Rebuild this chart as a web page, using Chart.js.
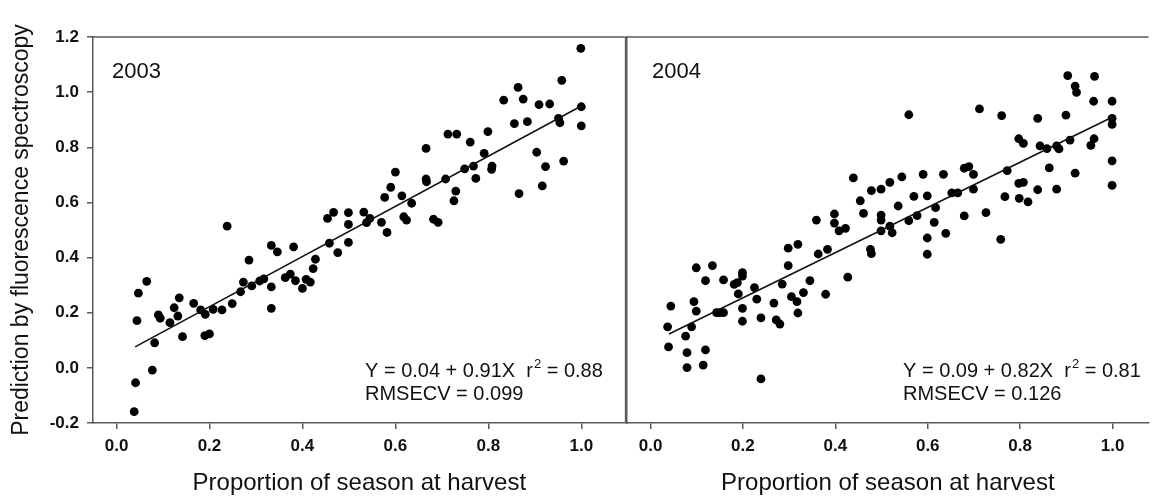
<!DOCTYPE html>
<html>
<head>
<meta charset="utf-8">
<title>Prediction by fluorescence spectroscopy</title>
<script src="https://cdn.jsdelivr.net/npm/chart.js@4.4.1/dist/chart.umd.min.js"></script>
<style>
  html, body { margin: 0; padding: 0; background: #fff; }
  #wrap { position: relative; width: 1153px; height: 498px; overflow: hidden; }
  #left { position: absolute; left: 0; top: 0; }
  #right { position: absolute; left: 600px; top: 0; }
</style>
</head>
<body>
<div id="wrap">
  <canvas id="left" width="630" height="498"></canvas>
  <canvas id="right" width="553" height="498"></canvas>
</div>
<script>
// data
const x2003 = [0.038, 0.041, 0.044, 0.047, 0.065, 0.077, 0.082, 0.090, 0.094, 0.115, 0.124, 0.132, 0.135, 0.142,
  0.166, 0.181, 0.191, 0.190, 0.200, 0.208, 0.227, 0.238, 0.249, 0.267, 0.273, 0.285, 0.291, 0.308, 0.317,
  0.333, 0.333, 0.333, 0.346, 0.363, 0.374, 0.381, 0.385, 0.400, 0.408, 0.417, 0.423, 0.428, 0.454, 0.467,
  0.458, 0.476, 0.499, 0.499, 0.499, 0.532, 0.538, 0.545, 0.570, 0.582, 0.577, 0.590, 0.600, 0.614, 0.618,
  0.624, 0.635, 0.666, 0.666, 0.667, 0.682, 0.692, 0.708, 0.713, 0.732, 0.726, 0.730, 0.749, 0.761, 0.768,
  0.773, 0.791, 0.799, 0.808, 0.807, 0.833, 0.856, 0.864, 0.866, 0.875, 0.884, 0.904, 0.909, 0.916, 0.923,
  0.932, 0.951, 0.954, 0.958, 0.962, 0.999, 1.000, 1.000];
const y2003 = [-0.159, -0.054, 0.171, 0.271, 0.314, -0.008, 0.091, 0.192, 0.180, 0.164, 0.218, 0.188, 0.254, 0.113,
  0.234, 0.210, 0.194, 0.117, 0.123, 0.212, 0.210, 0.514, 0.233, 0.276, 0.311, 0.391, 0.297, 0.315, 0.323,
  0.444, 0.294, 0.216, 0.421, 0.327, 0.340, 0.439, 0.316, 0.288, 0.321, 0.311, 0.360, 0.394, 0.542, 0.564,
  0.452, 0.418, 0.563, 0.520, 0.455, 0.565, 0.527, 0.542, 0.528, 0.491, 0.618, 0.655, 0.710, 0.624, 0.548,
  0.536, 0.597, 0.796, 0.685, 0.675, 0.539, 0.528, 0.685, 0.848, 0.848, 0.606, 0.641, 0.722, 0.819, 0.732,
  0.687, 0.778, 0.857, 0.732, 0.720, 0.971, 0.886, 1.017, 0.632, 0.975, 0.893, 0.782, 0.955, 0.660, 0.730,
  0.957, 0.905, 0.889, 1.043, 0.750, 1.159, 0.947, 0.878];

const x2004 = [0.037, 0.039, 0.044, 0.076, 0.079, 0.079, 0.089, 0.094, 0.099, 0.099, 0.114, 0.119, 0.119, 0.134,
  0.143, 0.158, 0.150, 0.158, 0.181, 0.188, 0.199, 0.199, 0.190, 0.199, 0.199, 0.225, 0.230, 0.239, 0.239,
  0.267, 0.272, 0.280, 0.285, 0.298, 0.298, 0.305, 0.317, 0.319, 0.319, 0.331, 0.345, 0.359, 0.363, 0.379,
  0.383, 0.398, 0.398, 0.408, 0.422, 0.427, 0.439, 0.454, 0.461, 0.478, 0.476, 0.478, 0.499, 0.499, 0.499,
  0.499, 0.518, 0.518, 0.523, 0.536, 0.544, 0.559, 0.559, 0.570, 0.577, 0.590, 0.599, 0.599, 0.599, 0.614,
  0.617, 0.634, 0.639, 0.652, 0.665, 0.679, 0.689, 0.699, 0.679, 0.699, 0.712, 0.726, 0.758, 0.760, 0.767,
  0.772, 0.797, 0.807, 0.797, 0.807, 0.798, 0.817, 0.838, 0.838, 0.843, 0.858, 0.863, 0.879, 0.879, 0.884,
  0.899, 0.903, 0.908, 0.919, 0.919, 0.922, 0.953, 0.960, 0.961, 0.959, 0.999, 0.999, 0.999, 0.999, 0.999];
const y2004 = [0.149, 0.076, 0.224, 0.115, 0.055, 0.001, 0.149, 0.240, 0.206, 0.363, 0.010, 0.065, 0.316, 0.371,
  0.200, 0.319, 0.200, 0.200, 0.303, 0.309, 0.345, 0.333, 0.268, 0.216, 0.169, 0.291, 0.249, 0.181, -0.040,
  0.235, 0.174, 0.159, 0.304, 0.371, 0.434, 0.258, 0.240, 0.199, 0.448, 0.273, 0.316, 0.536, 0.413, 0.267,
  0.430, 0.558, 0.525, 0.497, 0.506, 0.329, 0.689, 0.606, 0.560, 0.643, 0.430, 0.414, 0.648, 0.554, 0.536,
  0.497, 0.673, 0.514, 0.490, 0.587, 0.693, 0.918, 0.534, 0.622, 0.552, 0.702, 0.624, 0.471, 0.412, 0.528,
  0.581, 0.702, 0.488, 0.635, 0.635, 0.724, 0.730, 0.702, 0.551, 0.648, 0.939, 0.563, 0.466, 0.915, 0.621,
  0.715, 0.831, 0.814, 0.669, 0.673, 0.615, 0.602, 0.905, 0.646, 0.805, 0.795, 0.725, 0.648, 0.805, 0.794,
  0.917, 1.060, 0.826, 0.706, 1.022, 0.999, 0.807, 0.831, 1.057, 0.967, 0.967, 0.905, 0.883, 0.751, 0.662];

// regression line end points
const fitX = [0.04, 1.0];
const fit2003 = [0.076, 0.95];
const fit2004 = [0.123, 0.91];

// axis ticks and labels
const xTicks = [0, 0.2, 0.4, 0.6, 0.8, 1.0];
const yTicks = [-0.2, 0, 0.2, 0.4, 0.6, 0.8, 1.0, 1.2];
const xTitle = 'Proportion of season at harvest';
const yTitle = 'Prediction by fluorescence spectroscopy';

// panel notes
const years = ['2003', '2004'];
const intercepts = ['0.04', '0.09'];
const slopes = ['0.91', '0.82'];
const r2 = ['0.88', '0.81'];
const rmsecv = ['0.099', '0.126'];

const family = '"Liberation Sans", Arial, sans-serif';
const axisColor = '#5a5a5a';
const textColor = '#111';

function points(xs, ys) {
    return xs.map((x, i) => ({ x: x, y: ys[i] }));
}

// top line (and right line for the left panel)
const framePlugin = {
    id: 'frame',
    afterDatasetsDraw(chart, args, opts) {
        const ctx = chart.ctx;
        const a = chart.chartArea;
        ctx.save();
        ctx.strokeStyle = axisColor;
        ctx.lineWidth = 1.5;
        ctx.beginPath();
        ctx.moveTo(a.left, a.top);
        ctx.lineTo(a.right, a.top);
        if (opts.right) {
            ctx.moveTo(a.right, a.top);
            ctx.lineTo(a.right, a.bottom);
        }
        ctx.stroke();
        ctx.restore();
    }
};

// year label and regression text
const notesPlugin = {
    id: 'notes',
    afterDraw(chart, args, o) {
        const ctx = chart.ctx;
        const a = chart.chartArea;
        const i = o.idx;
        ctx.save();
        ctx.fillStyle = textColor;
        ctx.textBaseline = 'alphabetic';
        ctx.textAlign = 'left';
        ctx.font = '22px ' + family;
        ctx.fillText(years[i], a.left + o.yearX, a.top + 41);

        ctx.font = '20px ' + family;
        let x = a.left + o.eqX;
        const head = 'Y = ' + intercepts[i] + ' + ' + slopes[i] + 'X  r';
        ctx.fillText(head, x, a.top + 340);
        x += ctx.measureText(head).width;
        ctx.font = '13px ' + family;
        ctx.fillText('2', x + 1, a.top + 331);
        x += ctx.measureText('2').width + 1;
        ctx.font = '20px ' + family;
        ctx.fillText(' = ' + r2[i], x, a.top + 340);
        ctx.fillText('RMSECV = ' + rmsecv[i], a.left + o.eqX, a.top + 363);
        ctx.restore();
    }
};

function xScale(min, max) {
    return {
        type: 'linear',
        min: min,
        max: max,
        afterBuildTicks: s => { s.ticks = xTicks.map(v => ({ value: v })); },
        afterFit: s => { s.height = 75; },
        grid: { drawOnChartArea: false, tickLength: 6, color: axisColor, lineWidth: 1.5 },
        border: { color: axisColor, width: 1.5 },
        ticks: {
            color: textColor,
            font: { family: family, size: 17, weight: 'bold' },
            padding: 7,
            maxRotation: 0,
            callback: v => Number(v).toFixed(1)
        },
        title: {
            display: true,
            text: xTitle,
            color: textColor,
            font: { family: family, size: 24 },
            padding: { top: 0, bottom: 0 }
        }
    };
}

function makeChart(id, xs, ys, fitY, left) {
    const datasets = [
        {
            type: 'scatter',
            data: points(xs, ys),
            backgroundColor: '#000',
            borderWidth: 0,
            pointRadius: 4.4,
            order: 2
        },
        {
            type: 'line',
            data: points(fitX, fitY),
            borderColor: '#111',
            borderWidth: 1.6,
            pointRadius: 0,
            fill: false,
            order: 1
        }
    ];

    const yScale = {
        type: 'linear',
        min: -0.2,
        max: 1.2,
        afterBuildTicks: s => { s.ticks = yTicks.map(v => ({ value: v })); },
        afterFit: s => { s.width = left ? 93 : 27; },
        border: { color: axisColor, width: 1.5 }
    };
    if (left) {
        yScale.grid = { drawOnChartArea: false, tickLength: 6, color: axisColor, lineWidth: 1.5 };
        yScale.ticks = {
            color: textColor,
            font: { family: family, size: 17, weight: 'bold' },
            padding: 8,
            callback: v => Number(v).toFixed(1)
        };
        yScale.title = {
            display: true,
            text: yTitle,
            color: textColor,
            font: { family: family, size: 23 },
            padding: { top: 8, bottom: 0 }
        };
    } else {
        yScale.grid = { display: false };
        yScale.ticks = { display: false };
    }

    return new Chart(document.getElementById(id), {
        type: 'scatter',
        data: { datasets: datasets },
        options: {
            responsive: false,
            animation: false,
            events: [],
            layout: { padding: { top: 37, right: left ? 3 : 0, left: 0, bottom: 0 } },
            scales: {
                x: left ? xScale(-0.0506, 1.0953) : xScale(-0.0509, 1.078),
                y: yScale
            },
            plugins: {
                legend: { display: false },
                tooltip: { enabled: false },
                frame: { right: left },
                notes: left ? { idx: 0, yearX: 19, eqX: 272 } : { idx: 1, yearX: 25, eqX: 276 }
            }
        },
        plugins: [framePlugin, notesPlugin]
    });
}

makeChart('left', x2003, y2003, fit2003, true);
makeChart('right', x2004, y2004, fit2004, false);
</script>
</body>
</html>
